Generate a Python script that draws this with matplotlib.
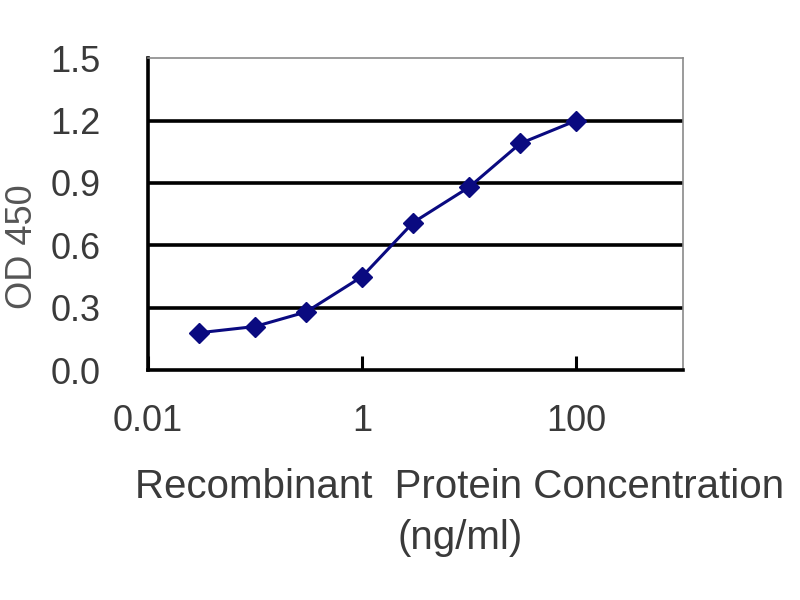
import matplotlib
matplotlib.use("Agg")
import matplotlib.pyplot as plt
from matplotlib.ticker import FixedLocator, FixedFormatter, NullLocator

plt.rcParams["font.family"] = ["Liberation Sans", "DejaVu Sans"]

# concentrations (ng/ml) and OD 450 readings
conc = [0.03, 0.1, 0.3, 1, 3, 10, 30, 100]
od450 = [0.18, 0.21, 0.28, 0.45, 0.71, 0.88, 1.09, 1.20]

x_ticks = [0.01, 1, 100]
x_tick_labels = ["0.01", "1", "100"]
y_ticks = [0.0, 0.3, 0.6, 0.9, 1.2, 1.5]
y_tick_labels = ["0.0", "0.3", "0.6", "0.9", "1.2", "1.5"]

text_color = "#3a3a3a"
navy = "#0a0a80"

fig = plt.figure(figsize=(8, 6), dpi=100)
ax = fig.add_axes([0.185, 0.383, 0.669, 0.52])

for y in y_ticks[1:-1]:
    ax.axhline(y, color="black", lw=2.6, zorder=1)

ax.plot(conc, od450, color=navy, lw=2.2, marker="D", markersize=10,
        markerfacecolor=navy, markeredgecolor=navy, zorder=3)

ax.set_xscale("log")
ax.set_xlim(0.01, 1000)
ax.set_ylim(0, 1.5)

ax.xaxis.set_major_locator(FixedLocator(x_ticks))
ax.xaxis.set_major_formatter(FixedFormatter(x_tick_labels))
ax.xaxis.set_minor_locator(NullLocator())
ax.set_yticks(y_ticks)
ax.set_yticklabels(y_tick_labels)

ax.tick_params(axis="x", direction="in", length=10, width=2.2, color="black",
               labelsize=26, labelcolor=text_color, pad=24)
ax.tick_params(axis="y", length=0, labelsize=26, labelcolor=text_color, pad=34)

for side in ("left", "bottom"):
    ax.spines[side].set_linewidth(2.6)
    ax.spines[side].set_color("black")
for side in ("top", "right"):
    ax.spines[side].set_linewidth(1.2)
    ax.spines[side].set_color("#8a8a8a")

ax.set_xlabel("Recombinant  Protein Concentration\n(ng/ml)", fontsize=29,
              color=text_color, linespacing=1.45)
ax.xaxis.set_label_coords(0.583, -0.313)
ax.set_ylabel("OD 450", fontsize=26, color="#555555")
ax.yaxis.set_label_coords(-0.202, 0.397)

fig.savefig("out.png", dpi=100)
